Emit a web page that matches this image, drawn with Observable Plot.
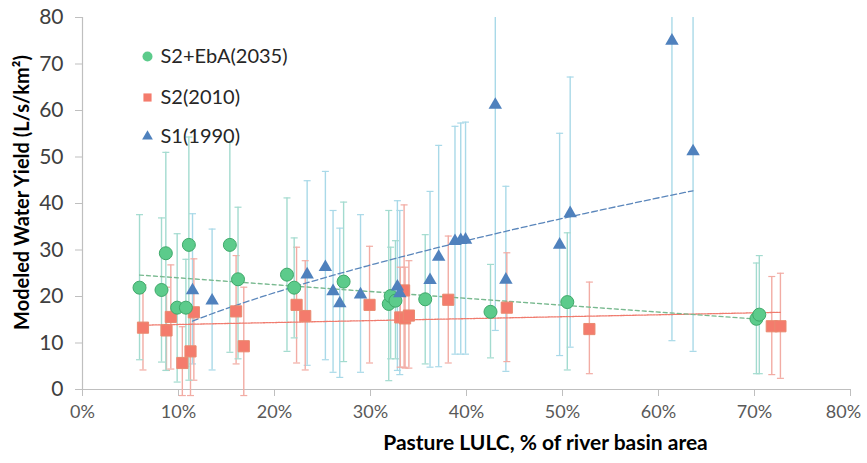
<!DOCTYPE html>
<html>
<head>
<meta charset="utf-8">
<script src="https://cdn.jsdelivr.net/npm/d3@7"></script>
<script src="https://cdn.jsdelivr.net/npm/@observablehq/plot@0.6"></script>
<style>
  body { margin: 0; background: #fff; }
  #chart { width: 867px; height: 463px; }
</style>
</head>
<body>
<div id="chart"></div>
<script>
// ---- Data ----
const legendNames = ["S2+EbA(2035)", "S2(2010)", "S1(1990)"];
const xTicks = [0, 10, 20, 30, 40, 50, 60, 70, 80];
const yTicks = [0, 10, 20, 30, 40, 50, 60, 70, 80];
const xTitle = "Pasture LULC, % of river basin area";
const yTitle = "Modeled Water Yield (L/s/km²)";

// S2+EbA(2035)
const greenX  = [5.94, 8.23, 8.68, 9.86, 10.77, 11.08, 15.35, 16.2, 21.3, 22.05, 27.2, 31.9, 32.1, 32.6, 35.7, 42.5, 50.5, 70.2, 70.5];
const greenY  = [21.9, 21.4, 29.3, 17.6, 17.6, 31.1, 31.1, 23.7, 24.7, 21.9, 23.2, 18.4, 20.1, 19.1, 19.4, 16.7, 18.8, 15.2, 16.1];
const greenLo = [6.4, 5.9, 4.1, 1.6, 5.0, 2.0, 8.0, 6.6, 8.2, 11.1, 6.0, 1.9, 6.6, 6.6, 5.5, 6.8, 4.2, 3.4, 3.4];
const greenHi = [37.6, 36.9, 51.0, 33.5, 28.0, 54.3, 53.2, 39.2, 41.2, 32.6, 40.3, 38.5, 30.6, 32.0, 33.3, 26.9, 33.7, 27.2, 28.8];

// S2(2010)
const redX  = [6.3, 8.75, 9.2, 10.4, 11.25, 11.6, 16.0, 16.8, 22.3, 23.2, 29.9, 33.1, 33.5, 33.6, 34.0, 38.1, 44.2, 52.8, 71.8, 72.7];
const redY  = [13.3, 12.7, 15.6, 5.7, 8.2, 16.6, 16.8, 9.3, 18.2, 15.8, 18.2, 15.5, 21.3, 15.3, 15.9, 19.3, 17.6, 13.0, 13.6, 13.6];
const redLo = [4.2, 4.1, 4.4, -1.3, -1.3, 2.0, 5.5, -1.3, 5.7, 4.2, 5.7, 4.8, 4.8, 4.6, 4.6, 5.7, 6.0, 3.4, 3.2, 2.4];
const redHi = [22.5, 22.0, 26.8, 13.5, 17.0, 28.1, 28.8, 22.0, 30.6, 27.7, 30.8, 26.3, 39.7, 26.3, 27.7, 33.0, 29.4, 23.1, 24.3, 25.0];

// S1(1990)
const blueX  = [11.46, 13.5, 23.4, 25.3, 26.1, 26.8, 28.96, 32.8, 33.05, 36.2, 37.1, 38.8, 39.4, 39.9, 43.0, 44.1, 49.7, 50.8, 61.4, 63.6];
const blueY  = [21.3, 19.1, 24.7, 26.3, 21.1, 18.5, 20.4, 22.1, 20.7, 23.5, 28.5, 31.9, 32.1, 32.2, 61.2, 23.6, 31.1, 37.9, 75.0, 51.2];
const blueLo = [5.5, 4.2, 5.2, 6.4, 3.7, 2.6, 3.7, 4.1, 3.2, 4.8, 4.9, 7.6, 7.6, 7.6, 12.7, 3.9, 7.3, 9.1, 10.5, 8.2];
const blueHi = [37.8, 34.5, 44.9, 46.9, 38.5, 34.7, 37.6, 40.6, 38.5, 42.6, 52.5, 56.6, 57.3, 57.5, 110, 43.7, 55.1, 67.2, 140, 95];

// ---- Styles ----
const C = {
  green: "#5ccb8b", greenEdge: "#3fa96a", greenBar: "#a3dbcf", greenTrend: "#78b98f",
  red: "#f47b6c", redEdge: "#e98a70", redBar: "#f2aca4", redTrend: "#f07b6e",
  blue: "#4f81bd", blueBar: "#a9d9e8", blueTrend: "#5a86bb",
  axis: "#bfbfbf", tick: "#595959"
};
const YMAX = 80;

const rows = (xs, ys, lo, hi) => xs.map((x, i) => ({x, y: ys[i], lo: lo[i], hi: hi[i]}));
const green = rows(greenX, greenY, greenLo, greenHi);
const red = rows(redX, redY, redLo, redHi);
const blue = rows(blueX, blueY, blueLo, blueHi);

// Power trendline (y = a x^b) fitted to S1 data, as in the source chart
const lx = blueX.map(Math.log), ly = blueY.map(Math.log);
const mx = d3.mean(lx), my = d3.mean(ly);
const pb = d3.sum(lx.map((v, i) => (v - mx) * (ly[i] - my))) / d3.sum(lx.map(v => (v - mx) ** 2));
const pa = Math.exp(my - pb * mx);
const [bx0, bx1] = d3.extent(blueX);
const blueCurve = d3.range(0, 61).map(i => { const x = bx0 + (bx1 - bx0) * i / 60; return {x, y: pa * Math.pow(x, pb)}; });

const cap = { draw(ctx) { ctx.moveTo(-3.5, 0); ctx.lineTo(3.5, 0); } };

function errorMarks(data, color) {
  return [
    Plot.ruleX(data, {x: "x", y1: "lo", y2: d => Math.min(d.hi, YMAX), stroke: color, strokeWidth: 1.4}),
    Plot.dot(data.filter(d => d.hi <= YMAX), {x: "x", y: "hi", symbol: cap, r: 3, fill: "none", stroke: color, strokeWidth: 1.2}),
    Plot.dot(data, {x: "x", y: "lo", symbol: cap, r: 3, fill: "none", stroke: color, strokeWidth: 1.2})
  ];
}

const legendSymbols = ["circle", "square", "triangle"];
const legendFill = [C.green, C.red, C.blue];
const legendR = [5, 4.6, 4];
const legendDy = [39, 80, 119];
const legendMarks = legendNames.flatMap((name, i) => [
  Plot.dot([name], {frameAnchor: "top-left", dx: 65, dy: legendDy[i], symbol: legendSymbols[i], r: legendR[i], fill: legendFill[i], stroke: "none"}),
  Plot.text([name], {text: d => d, frameAnchor: "top-left", dx: 78, dy: legendDy[i], textAnchor: "start", lineAnchor: "middle", fontSize: 20, fill: "#262626"})
]);

const lastX = xTicks[xTicks.length - 1];
const fmtX = d => d + "%";

const chart = Plot.plot({
  width: 867,
  height: 463,
  marginLeft: 82,
  marginRight: 17,
  marginTop: 17,
  marginBottom: 74,
  style: {fontFamily: "Lato, 'Open Sans', sans-serif", background: "#fff", overflow: "visible"},
  x: {domain: [0, 80]},
  y: {domain: [0, 80]},
  marks: [
    Plot.axisY({ticks: yTicks, tickSize: 7, tickPadding: 12, fontSize: 21, fill: "#404040", stroke: C.axis, label: null}),
    Plot.axisX({ticks: xTicks, tickFormat: d => d === lastX ? "" : fmtX(d), tickSize: 7, tickPadding: 9, fontSize: 18, fill: C.tick, stroke: C.axis, label: null}),
    Plot.axisX({ticks: [lastX], tickFormat: fmtX, tickSize: 0, tickPadding: 16, dx: -7, fontSize: 18, fill: C.tick, label: null}),
    Plot.ruleX([0], {stroke: C.axis, strokeWidth: 1.2}),
    Plot.ruleY([0], {stroke: C.axis, strokeWidth: 1.2}),
    ...errorMarks(blue, C.blueBar),
    ...errorMarks(red, C.redBar),
    ...errorMarks(green, C.greenBar),
    Plot.linearRegressionY(red, {x: "x", y: "y", stroke: C.redTrend, strokeWidth: 1.3, strokeDasharray: "2,1", ci: 0}),
    Plot.linearRegressionY(green, {x: "x", y: "y", stroke: C.greenTrend, strokeWidth: 1.3, strokeDasharray: "4,3", ci: 0}),
    Plot.line(blueCurve, {x: "x", y: "y", stroke: C.blueTrend, strokeWidth: 1.3, strokeDasharray: "6,3"}),
    Plot.dot(red, {x: "x", y: "y", symbol: "square", r: 6.3, fill: C.red, stroke: C.redEdge, strokeWidth: 1}),
    Plot.dot(green, {x: "x", y: "y", symbol: "circle", r: 6.5, fill: C.green, stroke: C.greenEdge, strokeWidth: 1}),
    Plot.dot(blue, {x: "x", y: "y", symbol: "triangle", r: 5, fill: C.blue, stroke: "none"}),
    ...legendMarks,
    Plot.text([xTitle], {text: d => d, frameAnchor: "bottom", lineAnchor: "middle", dx: 79, dy: 54, fontSize: 21, fontWeight: "bold", fill: "#000"}),
    Plot.text([yTitle], {text: d => d, frameAnchor: "left", rotate: -90, textAnchor: "middle", lineAnchor: "middle", dx: -60, dy: -11, fontSize: 20, fontWeight: "bold", fill: "#000"})
  ]
});
document.getElementById("chart").appendChild(chart);
</script>
</body>
</html>
